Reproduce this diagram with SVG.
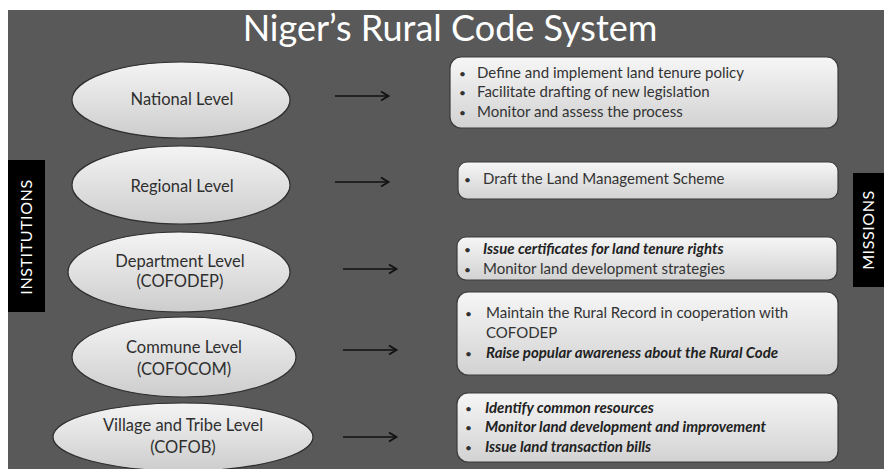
<svg xmlns="http://www.w3.org/2000/svg" width="884" height="469" viewBox="0 0 884 469">
<defs>
<linearGradient id="gEl" x1="0" y1="0" x2="0" y2="1">
<stop offset="0" stop-color="#f4f4f4"/>
<stop offset="1" stop-color="#cdcdcd"/>
</linearGradient>
<linearGradient id="gBox" x1="0" y1="0" x2="0" y2="1">
<stop offset="0" stop-color="#f6f6f6"/>
<stop offset="1" stop-color="#d2d2d2"/>
</linearGradient>
<marker id="arr" markerWidth="12" markerHeight="12" refX="9" refY="6" orient="auto" markerUnits="userSpaceOnUse">
<path d="M2,1.5 L9.5,6 L2,10.5" fill="none" stroke="#111" stroke-width="1.8"/>
</marker>
<style>
.el{fill:url(#gEl);stroke:#2e2e2e;stroke-width:1.2}
.box{fill:url(#gBox);stroke:#3a3a3a;stroke-width:1.2}
.lbl{font-family:Lato,"Liberation Sans",sans-serif;font-size:16.5px;fill:#2f2f2f;text-anchor:middle}
.t{font-family:Lato,"Liberation Sans",sans-serif;font-size:15px;fill:#333}
.dot{font-family:Lato,"Liberation Sans",sans-serif;font-size:12px;fill:#333}
.bi{font-weight:bold;font-style:italic;fill:#222}
.side{font-family:Lato,"Liberation Sans",sans-serif;font-size:16px;fill:#fff;text-anchor:middle;letter-spacing:0.6px}
.conn line{stroke:#111;stroke-width:1.6;marker-end:url(#arr)}
</style>
</defs>
<rect x="0" y="0" width="884" height="469" fill="#ffffff"/>
<rect x="8" y="10" width="876" height="459" fill="#595959"/>
<text x="450" y="41" font-family="Lato,'Liberation Sans',sans-serif" font-size="36" fill="#ffffff" text-anchor="middle">Niger’s Rural Code System</text>

<g id="institutions">
<rect x="8" y="160" width="37" height="152" fill="#000"/>
<text class="side" transform="translate(32,237) rotate(-90)">INSTITUTIONS</text>
</g>
<g id="missions">
<rect x="853" y="173" width="31" height="114" fill="#000"/>
<text class="side" transform="translate(874,230) rotate(-90)">MISSIONS</text>
</g>

<g id="national">
<ellipse class="el" cx="181" cy="100" rx="109" ry="38"/>
<text class="lbl" x="182" y="105">National Level</text>
</g>
<g id="regional">
<ellipse class="el" cx="181" cy="185" rx="109" ry="39"/>
<text class="lbl" x="182" y="192">Regional Level</text>
</g>
<g id="department">
<ellipse class="el" cx="179" cy="272" rx="111" ry="40"/>
<text class="lbl" x="180" y="267">Department Level</text>
<text class="lbl" x="180" y="287">(COFODEP)</text>
</g>
<g id="commune">
<ellipse class="el" cx="184" cy="357" rx="112" ry="40"/>
<text class="lbl" x="184" y="353">Commune Level</text>
<text class="lbl" x="184" y="375">(COFOCOM)</text>
</g>
<g id="village">
<ellipse class="el" cx="183" cy="437" rx="130" ry="34"/>
<text class="lbl" x="183" y="431">Village and Tribe Level</text>
<text class="lbl" x="183" y="453">(COFOB)</text>
</g>

<g id="m-national">
<rect class="box" x="450" y="57" width="388" height="71" rx="11"/>
<text class="dot" x="459" y="78">•</text><text class="t" x="477" y="78">Define and implement land tenure policy</text>
<text class="dot" x="459" y="97">•</text><text class="t" x="477" y="97">Facilitate drafting of new legislation</text>
<text class="dot" x="459" y="117">•</text><text class="t" x="477" y="117">Monitor and assess the process</text>
</g>
<g id="m-regional">
<rect class="box" x="458" y="162" width="380" height="37" rx="9"/>
<text class="dot" x="464" y="184">•</text><text class="t" x="483" y="184">Draft the Land Management Scheme</text>
</g>
<g id="m-department">
<rect class="box" x="457" y="237" width="380" height="43" rx="9"/>
<text class="dot" x="464" y="254">•</text><text class="t bi" x="483" y="254">Issue certificates for land tenure rights</text>
<text class="dot" x="464" y="274">•</text><text class="t" x="483" y="274">Monitor land development strategies</text>
</g>
<g id="m-commune">
<rect class="box" x="457" y="292" width="381" height="83" rx="11"/>
<text class="dot" x="465" y="318">•</text><text class="t" x="486" y="318">Maintain the Rural Record in cooperation with</text>
<text class="t" x="486" y="338">COFODEP</text>
<text class="dot" x="465" y="358">•</text><text class="t bi" x="486" y="358">Raise popular awareness about the Rural Code</text>
</g>
<g id="m-village">
<rect class="box" x="457" y="393" width="381" height="69" rx="11"/>
<text class="dot" x="465" y="413">•</text><text class="t bi" x="485" y="413">Identify common resources</text>
<text class="dot" x="465" y="432">•</text><text class="t bi" x="485" y="432">Monitor land development and improvement</text>
<text class="dot" x="465" y="452">•</text><text class="t bi" x="485" y="452">Issue land transaction bills</text>
</g>

<g id="connectors" class="conn">
<line x1="335" y1="96" x2="388" y2="96"/>
<line x1="335" y1="182" x2="388" y2="182"/>
<line x1="343" y1="269" x2="396" y2="269"/>
<line x1="343" y1="350" x2="396" y2="350"/>
<line x1="343" y1="437" x2="396" y2="437"/>
</g>
</svg>
